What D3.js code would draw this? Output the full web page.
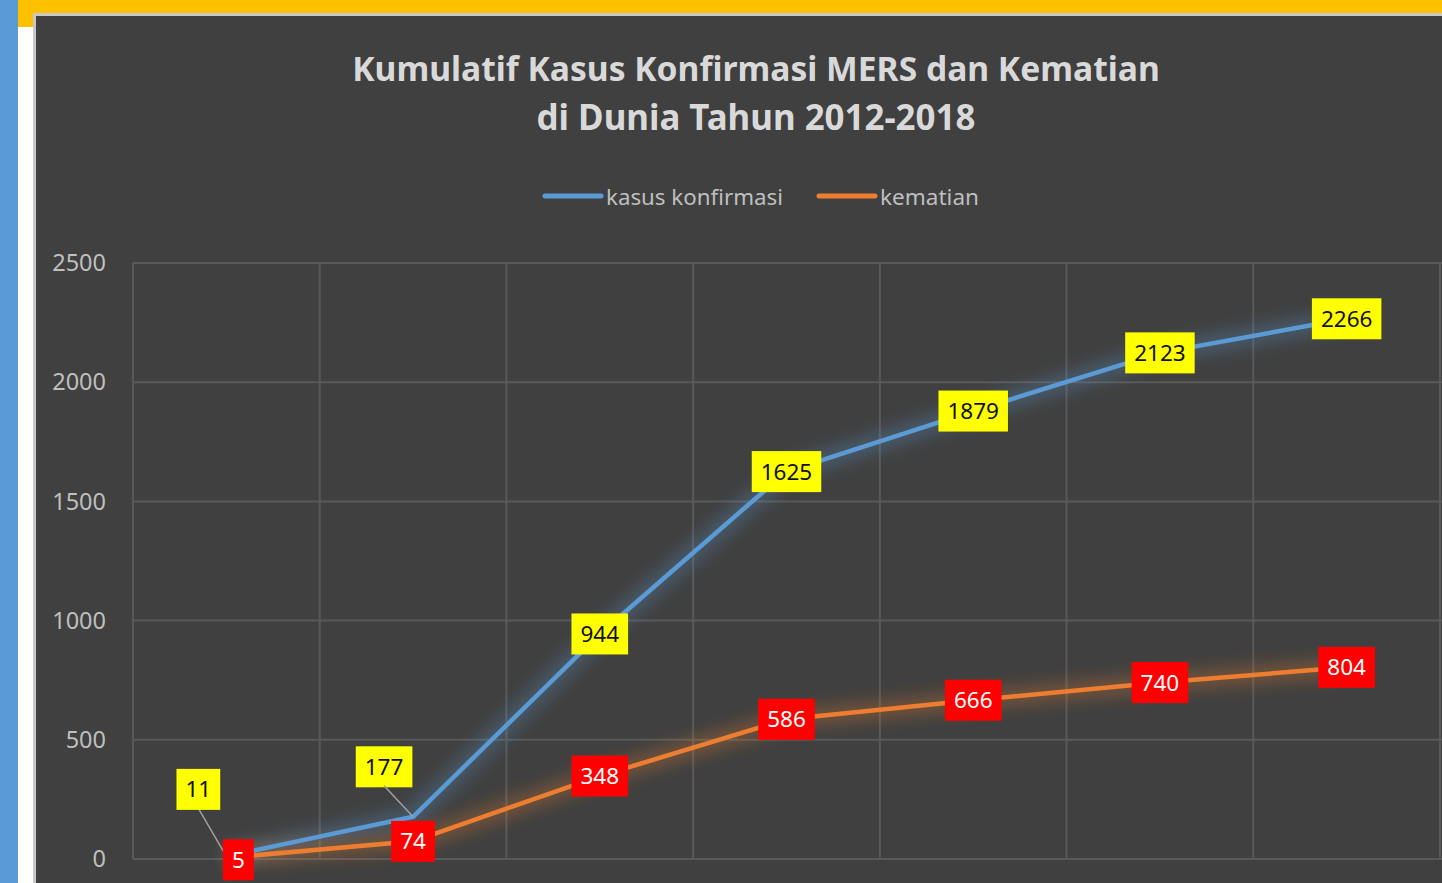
<!DOCTYPE html>
<html>
<head>
<meta charset="utf-8">
<title>Kumulatif Kasus MERS</title>
<style>
  html, body { margin: 0; padding: 0; background: #fff; overflow: hidden; }
  text { font-family: 'Noto Sans', 'Open Sans', sans-serif; }
</style>
<script src="https://d3js.org/d3.v7.min.js"></script>
</head>
<body>
<div id="chart"></div>
<script>
// ******* Data *******
const years = ["2012", "2013", "2014", "2015", "2016", "2017", "2018"];
const confirmed = [11, 177, 944, 1625, 1879, 2123, 2266];
const deaths = [5, 74, 348, 586, 666, 740, 804];
const yTicks = [0, 500, 1000, 1500, 2000, 2500];
const titleLines = ["Kumulatif Kasus Konfirmasi MERS dan Kematian", "di Dunia Tahun 2012-2018"];
const seriesNames = ["kasus konfirmasi", "kematian"];

// ******* Layout *******
const width = 1442, height = 883;
const plot = { left: 133, right: 1440, top: 263, bottom: 859 };
const blue = "#5B9BD5", orange = "#ED7D31";

// labels that were dragged away from their points (dx, dy in px)
const confirmedNudge = { "2012": [-28, -67], "2013": [-29, -50] };
const deathNudge = { "2012": [12, 2] };

const svg = d3.select("#chart").append("svg")
    .attr("width", width)
    .attr("height", height);

// shrink/grow font until text hits a target width
function fit(sel, target) {
  const w = sel.node().getComputedTextLength();
  const fs = parseFloat(sel.attr("font-size"));
  sel.attr("font-size", fs * target / w);
  return sel;
}

// ******* Slide background *******
svg.append("rect").attr("x", 0).attr("y", 0).attr("width", 18).attr("height", height).attr("fill", "#5B9BD5");
svg.append("rect").attr("x", 18).attr("y", 0).attr("width", width - 18).attr("height", 27).attr("fill", "#FFC000");
svg.append("rect").attr("x", 34.5).attr("y", 14.5).attr("width", 1500).attr("height", 1000)
    .attr("fill", "#404040").attr("stroke", "#c8c8c8").attr("stroke-width", 3);

// ******* Filter for the soft glow *******
const defs = svg.append("defs");
defs.append("filter").attr("id", "glow")
    .attr("x", "-20%").attr("y", "-20%").attr("width", "140%").attr("height", "140%")
  .append("feGaussianBlur").attr("stdDeviation", 8);

// ******* Scales *******
const x = d3.scaleBand().domain(years).range([plot.left, plot.right]);
const cx = d => x(d) + x.bandwidth() / 2;
const y = d3.scaleLinear().domain([0, 2500]).range([plot.bottom, plot.top]);

// ******* Grid *******
const grid = svg.append("g").attr("stroke", "#595959").attr("stroke-width", 2);
grid.selectAll("line.h").data(yTicks).enter().append("line")
    .attr("x1", plot.left).attr("x2", width + 10)
    .attr("y1", d => y(d)).attr("y2", d => y(d));
grid.selectAll("line.v").data(years.concat(["end"])).enter().append("line")
    .attr("x1", (d, i) => plot.left + i * x.bandwidth())
    .attr("x2", (d, i) => plot.left + i * x.bandwidth())
    .attr("y1", plot.top).attr("y2", plot.bottom);

// ******* Y axis labels *******
svg.append("g").selectAll("text").data(yTicks).enter().append("text")
    .attr("x", 106).attr("y", d => y(d))
    .attr("dy", "0.35em")
    .attr("text-anchor", "end")
    .attr("font-size", 23.5)
    .attr("fill", "#bfbfbf")
    .text(d => d);

// ******* Title *******
titleLines.forEach((t, i) => {
  const el = svg.append("text")
      .attr("x", 756).attr("y", 81 + i * 49)
      .attr("text-anchor", "middle")
      .attr("font-size", 32).attr("font-weight", "bold")
      .attr("fill", "#d9d9d9")
      .text(t);
  fit(el, i === 0 ? 808 : 439);
});

// ******* Legend *******
const legendX = [543, 817], legendW = [177, 99];
seriesNames.forEach((name, i) => {
  svg.append("line")
      .attr("x1", legendX[i] + 2).attr("x2", legendX[i] + 58)
      .attr("y1", 196).attr("y2", 196)
      .attr("stroke", i ? orange : blue)
      .attr("stroke-width", 5).attr("stroke-linecap", "round");
  const el = svg.append("text")
      .attr("x", legendX[i] + 63).attr("y", 205)
      .attr("font-size", 20)
      .attr("fill", "#bfbfbf")
      .text(name);
  fit(el, legendW[i]);
});

// ******* Lines *******
const line = d3.line().x(d => cx(d[0])).y(d => y(d[1]));
const series = [
  { values: confirmed, color: blue },
  { values: deaths, color: orange }
];
series.forEach(s => {
  const pts = years.map((yr, i) => [yr, s.values[i]]);
  svg.append("path").datum(pts)
      .attr("d", line).attr("fill", "none")
      .attr("stroke", s.color).attr("stroke-opacity", 0.3)
      .attr("stroke-width", 18).attr("filter", "url(#glow)");
});
series.forEach(s => {
  const pts = years.map((yr, i) => [yr, s.values[i]]);
  svg.append("path").datum(pts)
      .attr("d", line).attr("fill", "none")
      .attr("stroke", s.color)
      .attr("stroke-width", 4.5)
      .attr("stroke-linejoin", "round").attr("stroke-linecap", "round");
});

// ******* Data labels *******
function drawLabels(values, nudge, boxFill, textFill) {
  const g = svg.append("g");
  years.forEach((yr, i) => {
    const px = cx(yr), py = y(values[i]);
    const n = nudge[yr] || [0, 0];
    const lx = px + n[0], ly = py + n[1];
    if (Math.abs(n[1]) > 30) {
      g.append("line")
          .attr("x1", lx).attr("y1", ly + 19)
          .attr("x2", px).attr("y2", py)
          .attr("stroke", "#a0a0a0").attr("stroke-width", 1.5);
    }
    const t = g.append("text")
        .attr("x", lx).attr("y", ly)
        .attr("dy", "0.36em")
        .attr("text-anchor", "middle")
        .attr("font-size", 22.5)
        .attr("fill", textFill)
        .text(values[i]);
    const w = t.node().getComputedTextLength();
    g.insert("rect", "text")
        .attr("x", lx - w / 2 - 9).attr("y", ly - 20.5)
        .attr("width", w + 18).attr("height", 41)
        .attr("fill", boxFill);
  });
}
drawLabels(confirmed, confirmedNudge, "#FFFF00", "#111");
drawLabels(deaths, deathNudge, "#FF0000", "#fff");
</script>
</body>
</html>
